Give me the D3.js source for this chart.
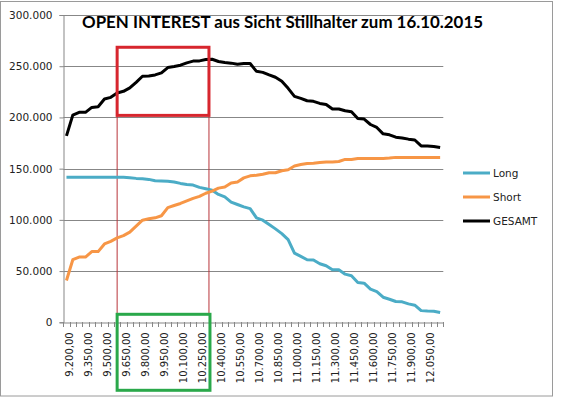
<!DOCTYPE html>
<html>
<head>
<meta charset="utf-8">
<script src="https://cdn.jsdelivr.net/npm/d3@7"></script>
<style>
  body { margin: 0; background: #fff; }
  svg { display: block; }
</style>
</head>
<body>
<div class="chart"></div>
<script>
const w = 561;
const h = 397;

// strike prices 9.200 .. 12.150, step 50
const strikes = d3.range(9200, 12151, 50);

const longOI = [141500, 141500, 141500, 141500, 141500, 141500, 141500, 141500, 141500, 141500,
  141200, 140500, 140200, 139500, 138200, 138000, 137600, 137000, 135600, 134500,
  134000, 131700, 130400, 129000, 124800, 122500, 117300, 115000, 112700, 111000,
  102000, 99700, 95400, 91200, 86600, 80700, 67600, 64400, 61100, 60900,
  57200, 55200, 51300, 51300, 47000, 45400, 38900, 38200, 32400, 30000,
  24500, 22500, 20300, 20000, 18000, 16700, 11400, 11000, 10800, 9500];

const shortOI = [40800, 61100, 63700, 63700, 69000, 69000, 76500, 79000, 82400, 84600,
  88000, 93800, 99700, 101000, 102000, 104000, 112000, 114000, 116000, 118500,
  121000, 123000, 126000, 128000, 131000, 132000, 136000, 137000, 141000, 143000,
  143500, 144500, 146000, 146000, 148000, 149000, 152600, 154000, 155000, 155300,
  156000, 156500, 156500, 157000, 159000, 159000, 160000, 160000, 160000, 160000,
  160000, 160300, 161000, 161000, 161000, 161000, 161000, 161000, 161000, 161000];

const totalOI = [182000, 202300, 205000, 205000, 209800, 210500, 218000, 219600, 223900, 225500,
  228800, 234300, 240200, 240500, 241500, 243500, 248700, 249700, 251000, 253300,
  255000, 255200, 256500, 256800, 254600, 253600, 253000, 252000, 252600, 252600,
  245000, 244000, 241500, 239200, 235300, 228400, 220600, 218600, 216300, 215700,
  213700, 212700, 208200, 208200, 206500, 205600, 199000, 198400, 193100, 190200,
  184000, 183000, 180700, 180000, 178800, 178000, 172200, 172200, 171600, 170600];

const yTicks = [0, 50000, 100000, 150000, 200000, 250000, 300000];

const seriesNames = ["Long", "Short", "GESAMT"];
const seriesColors = ["#4bacc6", "#f79646", "#000000"];

// highlighted zone (index from/to, value from/to)
const zoneIdx = [8, 22.5];
const zoneVal = [202000, 268500];

const fmtDE = d3.formatLocale({ decimal: ",", thousands: ".", grouping: [3], currency: ["", " €"] });
const fmtY = v => v === 0 ? "0" : fmtDE.format(",.3f")(v / 1000).replace(",", ".");
const fmtX = fmtDE.format(",.2f");

const margin = { top: 15, left: 63.3, bottom: 322.3, right: 443.3 };

const svg = d3.select(".chart")
  .append("svg")
  .attr("width", w)
  .attr("height", h);

// chart frame
svg.append("rect")
  .attr("x", 0.5).attr("y", 1.5)
  .attr("width", 552).attr("height", 394.5)
  .attr("fill", "#fff")
  .attr("stroke", "#9a9a9a");

const x = d3.scaleBand()
  .domain(strikes)
  .range([margin.left, margin.right]);

// continuous position along the categories (index space)
const xi = d3.scaleLinear()
  .domain([-0.5, strikes.length - 0.5])
  .range([margin.left, margin.right]);

const y = d3.scaleLinear()
  .domain([0, 300000])
  .range([margin.bottom, margin.top]);

// gridlines
svg.append("g")
  .selectAll("line")
  .data(yTicks.filter(d => d > 0))
  .enter().append("line")
  .attr("x1", margin.left).attr("x2", margin.right)
  .attr("y1", d => Math.round(y(d)) + 0.5)
  .attr("y2", d => Math.round(y(d)) + 0.5)
  .attr("stroke", "#878787");

// y axis
const yAxis = svg.append("g")
  .attr("transform", `translate(${Math.round(margin.left) + 0.5},0)`)
  .call(d3.axisLeft(y).tickValues(yTicks).tickFormat(fmtY).tickSize(4).tickPadding(7));
yAxis.select(".domain").attr("stroke", "#878787");
yAxis.selectAll(".tick line").attr("stroke", "#878787");
yAxis.selectAll("text")
  .attr("font-family", "DejaVu Sans")
  .attr("font-size", 10.5)
  .attr("fill", "#222");

// x axis
const xAxis = svg.append("g")
  .attr("transform", `translate(0,${Math.round(margin.bottom) + 0.5})`)
  .call(d3.axisBottom(x).tickSize(0).tickFormat(""));
xAxis.select(".domain").attr("stroke", "#878787");

svg.append("g")
  .selectAll("line")
  .data(d3.range(strikes.length + 1))
  .enter().append("line")
  .attr("x1", d => Math.round(xi(d - 0.5)) + 0.5)
  .attr("x2", d => Math.round(xi(d - 0.5)) + 0.5)
  .attr("y1", Math.round(margin.bottom))
  .attr("y2", Math.round(margin.bottom) + 5)
  .attr("stroke", "#878787");

svg.append("g")
  .selectAll("text")
  .data(strikes.filter((d, i) => i % 3 === 0))
  .enter().append("text")
  .attr("transform", d => `translate(${x(d) + x.bandwidth() / 2},${margin.bottom + 10}) rotate(-90)`)
  .attr("dy", 7)
  .attr("text-anchor", "end")
  .attr("font-family", "DejaVu Sans")
  .attr("font-size", 10)
  .attr("fill", "#222")
  .text(d => fmtX(d));

// annotation: red box + guide lines + green box
const zx0 = xi(zoneIdx[0]);
const zx1 = xi(zoneIdx[1]);

svg.append("g")
  .selectAll("line")
  .data([zx0, zx1])
  .enter().append("line")
  .attr("x1", d => d).attr("x2", d => d)
  .attr("y1", y(zoneVal[0]))
  .attr("y2", margin.bottom - 8)
  .attr("stroke", "#b8343a")
  .attr("stroke-width", 1);

// lines
const series = [longOI, shortOI, totalOI];
const line = d3.line()
  .x((d, i) => x(strikes[i]) + x.bandwidth() / 2)
  .y(d => y(d));

svg.append("g")
  .selectAll("path")
  .data(series)
  .enter().append("path")
  .attr("d", d => line(d))
  .attr("fill", "none")
  .attr("stroke", (d, i) => seriesColors[i])
  .attr("stroke-width", 3)
  .attr("stroke-linejoin", "round");

svg.append("rect")
  .attr("x", zx0).attr("y", y(zoneVal[1]))
  .attr("width", zx1 - zx0)
  .attr("height", y(zoneVal[0]) - y(zoneVal[1]))
  .attr("fill", "none")
  .attr("stroke", "#d7262e")
  .attr("stroke-width", 3);

svg.append("rect")
  .attr("x", zx0).attr("y", margin.bottom - 8)
  .attr("width", zx1 - zx0 + 1)
  .attr("height", 76)
  .attr("fill", "none")
  .attr("stroke", "#2aa84a")
  .attr("stroke-width", 3);

// title
svg.append("text")
  .attr("x", 82).attr("y", 28)
  .attr("textLength", 401)
  .attr("lengthAdjust", "spacingAndGlyphs")
  .attr("font-family", "Lato")
  .attr("font-weight", "bold")
  .attr("font-size", 17)
  .attr("fill", "#000")
  .text("OPEN INTEREST aus Sicht Stillhalter zum 16.10.2015");

// legend
const legend = svg.append("g")
  .selectAll("g")
  .data(seriesNames)
  .enter().append("g")
  .attr("transform", (d, i) => `translate(463,${173 + i * 24})`);

legend.append("line")
  .attr("x1", 0).attr("x2", 27)
  .attr("stroke", (d, i) => seriesColors[i])
  .attr("stroke-width", 3);

legend.append("text")
  .attr("x", 30)
  .attr("dy", "0.35em")
  .attr("font-family", "DejaVu Sans")
  .attr("font-size", 10.5)
  .attr("fill", "#222")
  .text(d => d);
</script>
</body>
</html>
